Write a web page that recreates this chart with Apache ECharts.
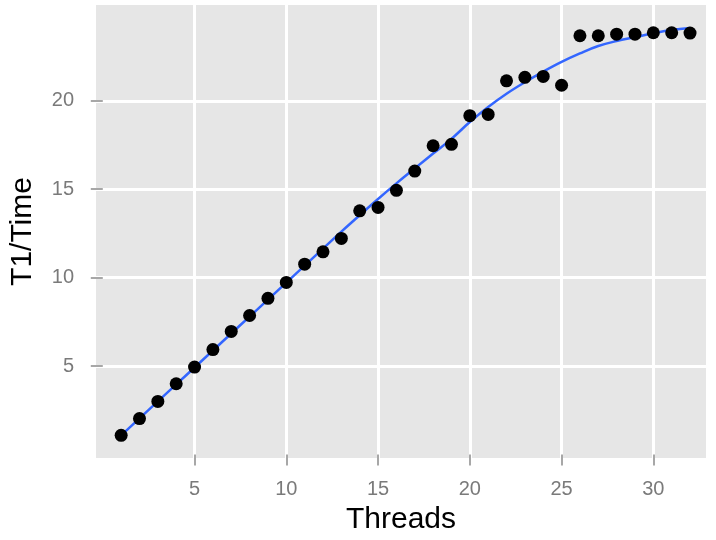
<!DOCTYPE html>
<html>
<head>
<meta charset="utf-8">
<script src="https://cdn.jsdelivr.net/npm/echarts@6/dist/echarts.min.js"></script>
<style>
  html, body { margin: 0; padding: 0; background: #ffffff; }
  #chart { width: 716px; height: 540px; }
</style>
</head>
<body>
<div id="chart"></div>
<script>
// Data
const threads = [1,2,3,4,5,6,7,8,9,10,11,12,13,14,15,16,17,18,19,20,21,22,23,24,25,26,27,28,29,30,31,32];
const speedup = [1.08,2.03,3.0,4.0,4.94,5.93,6.96,7.86,8.83,9.73,10.76,11.46,12.22,13.78,13.97,14.94,16.03,17.46,17.54,19.16,19.23,21.13,21.33,21.38,20.88,23.68,23.68,23.77,23.77,23.85,23.85,23.83];
const smoothFit = [1.08,2.04,3.0,3.96,4.92,5.88,6.84,7.8,8.76,9.72,10.68,11.64,12.6,13.53,14.45,15.33,16.18,17.02,17.85,18.8,19.65,20.4,21.05,21.65,22.2,22.68,23.1,23.38,23.6,23.82,24.0,24.12];
const xTicks = [5,10,15,20,25,30];
const yTicks = [5,10,15,20];

const chart = echarts.init(document.getElementById('chart'), null, { renderer: 'canvas' });
const font = 'Liberation Sans, Arial, Helvetica, sans-serif';

chart.setOption({
  animation: false,
  backgroundColor: '#ffffff',
  grid: {
    left: 93, right: 10, top: 5, bottom: 78,
    show: true, backgroundColor: '#e6e6e6', borderWidth: 0
  },
  xAxis: {
    type: 'value',
    min: -0.37, max: 32.87,
    minInterval: 5, maxInterval: 5,
    name: 'Threads',
    nameLocation: 'middle',
    nameGap: 47,
    nameTextStyle: { color: '#000000', fontSize: 30, fontFamily: font },
    axisLine: { show: false },
    axisTick: { show: true, customValues: xTicks, length: 11, lineStyle: { color: '#8a8a8a', width: 1.5 } },
    axisLabel: { customValues: xTicks, color: '#7a7a7a', fontSize: 20, fontFamily: font, margin: 21 },
    splitLine: { show: true, lineStyle: { color: '#ffffff', width: 3 } }
  },
  yAxis: {
    type: 'value',
    min: -0.2, max: 25.42,
    minInterval: 5, maxInterval: 5,
    name: 'T1/Time',
    nameLocation: 'middle',
    nameGap: 58,
    nameRotate: 90,
    nameTextStyle: { color: '#000000', fontSize: 30, fontFamily: font },
    axisLine: { show: false },
    axisTick: { show: true, customValues: yTicks, length: 12, lineStyle: { color: '#8a8a8a', width: 1.5 } },
    axisLabel: { customValues: yTicks, color: '#7a7a7a', fontSize: 20, fontFamily: font, margin: 22 },
    splitLine: { show: true, lineStyle: { color: '#ffffff', width: 3 } }
  },
  series: [
    {
      type: 'line',
      data: threads.map((t, i) => [t, smoothFit[i]]),
      smooth: 0.4,
      showSymbol: false,
      lineStyle: { color: '#3366ff', width: 2.5 },
      z: 2
    },
    {
      type: 'scatter',
      data: threads.map((t, i) => [t, speedup[i]]),
      symbol: 'circle',
      symbolSize: 13,
      itemStyle: { color: '#000000', opacity: 1 },
      z: 3
    }
  ]
});
</script>
</body>
</html>
